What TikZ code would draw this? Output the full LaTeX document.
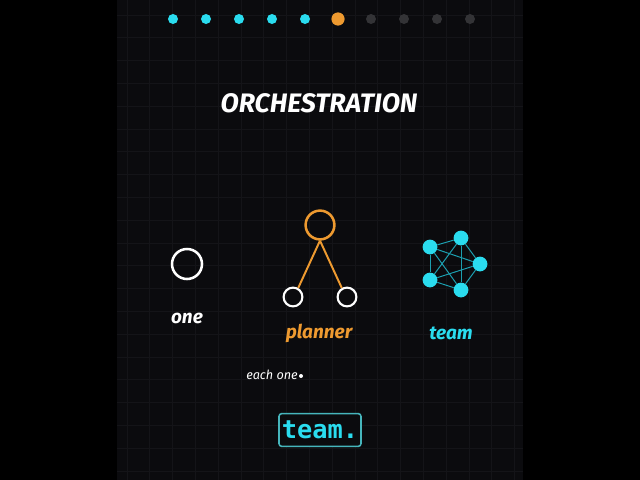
\documentclass[tikz,border=0pt]{standalone}
\usepackage{fontspec}
\setmainfont{Fira Sans}
\setmonofont{DejaVu Sans Mono}
\usepackage{tikz}

\definecolor{panel}{HTML}{0B0B0E}
\definecolor{gridline}{HTML}{141418}
\definecolor{agentcyan}{HTML}{2ADCEF}
\definecolor{plannerorange}{HTML}{EE9A30}
\definecolor{stepgray}{HTML}{333336}
\definecolor{linkcyan}{HTML}{1C9FB0}
\definecolor{boxedge}{HTML}{46B5BC}

\begin{document}
\begin{tikzpicture}[x=0.025cm, y=-0.025cm,
    hand/.style = {font=\fontsize{13.5}{15}\selectfont\bfseries\itshape},
    ring/.style = {circle, draw=white, line width=1.8pt, inner sep=0pt},
    agent/.style = {circle, fill=agentcyan, inner sep=0pt, minimum size=0.37cm},
    progress/.style = {circle, inner sep=0pt, minimum size=0.25cm}]

                \useasboundingbox (0,0) rectangle (640,480);
                \fill [black] (0,0) rectangle (640,480);
                \fill [panel] (117,0) rectangle (523,480);

                \begin{scope}
                \clip (117,0) rectangle (523,480);
                \foreach \k in {0,...,21}
                    \draw [gridline, line width=0.5pt] (117,15+\k*22.8) -- (523,15+\k*22.8);
                \foreach \k in {0,...,18}
                    \draw [gridline, line width=0.5pt] (127+\k*22.8,0) -- (127+\k*22.8,480);
                \end{scope}

                \foreach \i in {0,...,4}
                    \node [progress, fill=agentcyan] (done\i) at (173+\i*33,19) {};
                \node [progress, fill=plannerorange, minimum size=0.33cm] (current) at (338,19) {};
                \foreach \i in {0,...,3}
                    \node [progress, fill=stepgray] (todo\i) at (371+\i*33,19) {};

                \node [white, font=\fontsize{19}{21}\selectfont\bfseries\itshape] (title)
                at (319,103) {ORCHESTRATION};

                \node [ring, minimum size=0.75cm] (one) at (187,264) {};
                \node [hand, white] (onelabel) at (187,318) {one};

                \node [ring, draw=plannerorange, minimum size=0.72cm] (planner) at (320,225) {};
                \node [ring, line width=1.5pt, minimum size=0.47cm] (workerl) at (293,297) {};
                \node [ring, line width=1.5pt, minimum size=0.47cm] (workerr) at (347,297) {};
                \draw [plannerorange, line width=1.4pt] (planner.south) -- (workerl.60);
                \draw [plannerorange, line width=1.4pt] (planner.south) -- (workerr.120);
                \node [hand, plannerorange] (plannerlabel) at (319,333) {planner};

                \node [agent] (m1) at (430,247) {};
                \node [agent] (m2) at (461,238) {};
                \node [agent] (m3) at (480,264) {};
                \node [agent] (m4) at (461,290) {};
                \node [agent] (m5) at (430,280) {};
                \foreach \a/\b in {1/2,1/3,1/4,1/5,2/3,2/4,2/5,3/4,3/5,4/5}
                    \draw [linkcyan, line width=0.7pt] (m\a) -- (m\b);
                \node [hand, agentcyan] (teamlabel) at (451,333) {team};

                \node [white, font=\fontsize{9}{10}\selectfont\itshape] (eachone) at (272,375) {each one};
                \node [circle, fill=white, inner sep=0pt, minimum size=0.1cm] (cursor) at (301,376) {};

                \node [draw=boxedge, line width=1.1pt, rounded corners=2pt, fill=panel,
                text=agentcyan, font=\ttfamily\bfseries\fontsize{18}{20}\selectfont,
                minimum width=2.05cm, minimum height=0.82cm, inner sep=0pt] (answer)
                at (320,430) {team.};

            \end{tikzpicture}
\end{document}
